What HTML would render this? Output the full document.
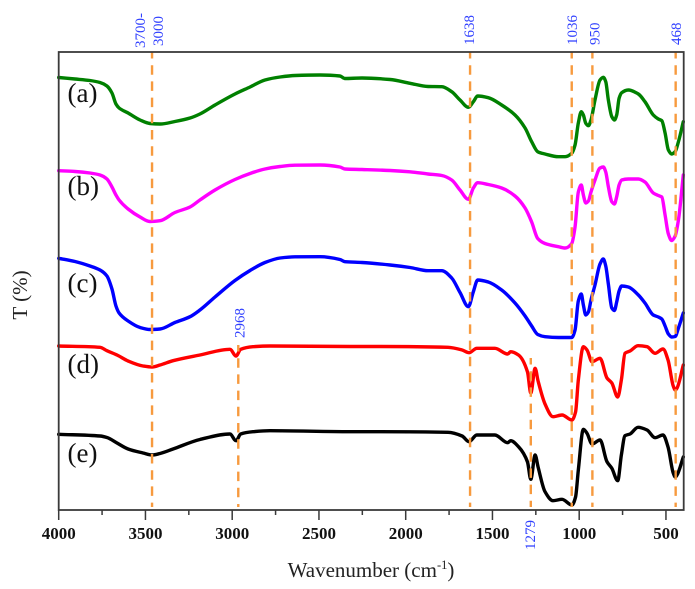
<!DOCTYPE html>
<html lang="en">
<head>
<meta charset="utf-8">
<title>FTIR spectra</title>
<style>
html,body{margin:0;padding:0;background:#fff;}
#chart{display:block;width:695px;height:589px;}
text{font-family:"Liberation Serif",serif;}
</style>
</head>
<body>
<svg id="chart" xmlns="http://www.w3.org/2000/svg" width="695" height="589" viewBox="0 0 695 589">
  <rect x="0" y="0" width="695" height="589" fill="#ffffff"/>
  <g id="curves"></g>
  <g id="guides"></g>
  <rect x="58.7" y="52" width="625" height="458" fill="none" stroke="#3a3a3a" stroke-width="1.8"/>
  <g id="ticks"></g>
  <g id="annotations"></g>
  <g id="series-labels"></g>
  <text x="371" y="577" text-anchor="middle" font-size="21" fill="#222">Wavenumber (cm<tspan font-size="12.5" dy="-8">-1</tspan><tspan dy="8">)</tspan></text>
  <text transform="translate(27,295) rotate(-90)" text-anchor="middle" font-size="21" fill="#222">T (%)</text>
</svg>
<script>
// Wavenumber sampling (cm-1) for the upper three spectra
const wavenumbersUpper = [4000,3906,3820,3762,3722,3693,3670,3652,3600,3531,3474,3416,3330,3243,3186,3099,2984,2897,2811,2724,2638,2494,2379,2350,2252,2090,1975,1871,1792,1735,1687,1639,1610,1585,1524,1447,1370,1312,1274,1239,1197,1120,1081,1043,1024,1005,988,976,962,947,932,909,880,861,847,832,812,797,784,770,755,717,659,621,573,544,524,505,486,467,447,428,400];
// Wavenumber sampling (cm-1) for the lower two spectra
const wavenumbersLower = [4000,3762,3722,3664,3600,3514,3462,3416,3341,3186,3013,2978,2951,2880,2782,2321,2160,1756,1675,1635,1590,1486,1412,1395,1350,1298,1279,1254,1237,1197,1151,1099,1042,1021,1005,976,955,926,880,840,812,778,757,736,707,661,609,563,517,488,458,446,436,400];
// Transmittance in arbitrary offset units
const seriesA = [432.5,431,429.5,427.5,424,417,406,402,397,390,386.5,386,388.5,392,396,405,416,423,430,433,434.5,435,434,431.5,432,430.5,426.7,423.5,423.3,418.3,410,402.7,408.3,414,412.3,405,395,382,368.3,358.3,356,353.3,353.3,356.7,365,387,398.3,395,386.7,384.3,390,410,430,432.7,428.3,410,393.3,390,395,411.7,417.3,420,416,408.3,395,391,389.3,377,360,356,358.3,368.3,388.3];
const seriesB = [339.3,338.5,337,335,331,323,315,310,301,293,288.5,289.3,297.5,303,310,320,330.5,336.5,341,343.5,344.8,345,343,341,340.5,339.5,338.2,336,334.5,330,320,310.7,322,327.3,325.5,322,314,302,288,271.5,266.5,263.3,262,266.5,283,318,325,315,307,309,318,330,342,343,338,323.3,308.3,306,313.3,325,330,331,331,328,317,314.5,313,295,276,269.5,274,290,335];
const seriesC = [251.7,248.5,244,240,234,221,204,197,189,182.5,180.5,181,187.5,193.3,200,213,229.5,239.5,247.5,252,253.2,253.3,250.5,248.3,247.5,245,242.5,239.3,239.3,232,217.5,203.3,218.3,230,228,220,207,194,184,175.5,173.3,172.5,172.5,172.5,180,209,216,205,195,198,210,225,246,251,244,226,202,199.5,208,219,224,223,215,207,195,193,191,184,176,173,173.5,182,197];
const seriesD = [164,162.7,159.3,155,149,144,143,145,149.3,155,160.7,154,160.7,163.3,164,163.5,163.5,162.7,160,157.3,161.7,161.7,156,158.3,155,138,117,141.7,129,106,93.3,95,90,98,130,163.3,160,148.3,151.7,132,127,113,130,156.7,159,164.3,163.3,156.7,161,150,124,120,122,145];
const seriesE = [75.7,74,72.5,67,61,57,55,56.5,61,70.5,76,69.3,76,78.3,79.3,78.3,78.3,77.7,74,68.3,75,75,67.3,69.3,63.3,48,30.7,55,43,18.3,9.3,10.7,5,13,40,80.7,76.7,66,70,48.3,41.7,29.3,55,74.3,76,82.7,80,72.3,75,63,37,33,35,53];
// Tick labels
const majorTicks = [4000,3500,3000,2500,2000,1500,1000,500];
const minorTicks = [3750,3250,2750,2250,1750,1250,750];
// Guide lines: wavenumber, and the transmittance where each one starts
const guideWavenumbers = [3462,2965,1629,1279,1043,924,444];
const guideTops = [458,165,458,152,458,458,458];
// Printed peak annotations
const annotationLines = ["3700-","3000","2968","1638","1279","1036","950","468"];
const annotationWavenumbers = [3530,3428,2958,1634,1285,1041,912,442];
const annotationTops = [462,464,172,465,-40,465,465,465];
// Series text labels
const seriesNames = ["(a)","(b)","(c)","(d)","(e)"];
const seriesNameLevels = [408,315,218,137,48];

const NS = "http://www.w3.org/2000/svg";
const xScale = wn => 58.7 + (4000 - wn) * 0.1735;
const yScale = t => 510 - t;

function smoothPath(xs, ys) {
  const n = xs.length, d = [], w = [], m = [];
  for (let i = 0; i < n - 1; i++) {
    w.push(xs[i + 1] - xs[i]);
    d.push((ys[i + 1] - ys[i]) / w[i]);
  }
  m[0] = d[0];
  m[n - 1] = d[n - 2];
  for (let i = 1; i < n - 1; i++) {
    const a = 2 * w[i] + w[i - 1], b = w[i] + 2 * w[i - 1];
    m[i] = d[i - 1] * d[i] <= 0 ? 0 : (a + b) / (a / d[i - 1] + b / d[i]);
  }
  let s = "M" + xs[0].toFixed(2) + " " + ys[0].toFixed(2);
  for (let i = 0; i < n - 1; i++) {
    const h = w[i] / 3;
    s += "C" + (xs[i] + h).toFixed(2) + " " + (ys[i] + m[i] * h).toFixed(2) + " " +
      (xs[i + 1] - h).toFixed(2) + " " + (ys[i + 1] - m[i + 1] * h).toFixed(2) + " " +
      xs[i + 1].toFixed(2) + " " + ys[i + 1].toFixed(2);
  }
  return s;
}

function drawCurve(wn, t, color, name) {
  const p = document.createElementNS(NS, "path");
  p.setAttribute("d", smoothPath(wn.map(xScale), t.map(yScale)));
  p.setAttribute("fill", "none");
  p.setAttribute("stroke", color);
  p.setAttribute("stroke-width", "3.4");
  p.setAttribute("stroke-linejoin", "round");
  p.setAttribute("stroke-linecap", "round");
  
  
  document.getElementById("curves").appendChild(p);
}
drawCurve(wavenumbersUpper, seriesA, "#008000", "curve-a");
drawCurve(wavenumbersUpper, seriesB, "#ff00ff", "curve-b");
drawCurve(wavenumbersUpper, seriesC, "#0000ff", "curve-c");
drawCurve(wavenumbersLower, seriesD, "#ff0000", "curve-d");
drawCurve(wavenumbersLower, seriesE, "#000000", "curve-e");

const guideLayer = document.getElementById("guides");
guideWavenumbers.forEach((wn, i) => {
  const l = document.createElementNS(NS, "line");
  l.setAttribute("x1", xScale(wn));
  l.setAttribute("x2", xScale(wn));
  l.setAttribute("y1", yScale(guideTops[i]));
  l.setAttribute("y2", 507);
  l.setAttribute("stroke", "#f79a3e");
  l.setAttribute("stroke-width", "2.4");
  l.setAttribute("stroke-dasharray", "9.5 6.7");
  l.setAttribute("stroke-dashoffset", "3");
  
  
  guideLayer.appendChild(l);
});

const tickLayer = document.getElementById("ticks");
majorTicks.forEach(wn => {
  const l = document.createElementNS(NS, "line");
  l.setAttribute("x1", xScale(wn));
  l.setAttribute("x2", xScale(wn));
  l.setAttribute("y1", 510);
  l.setAttribute("y2", 520);
  l.setAttribute("stroke", "#3a3a3a");
  l.setAttribute("stroke-width", "1.5");
  
  
  tickLayer.appendChild(l);
  const t = document.createElementNS(NS, "text");
  t.setAttribute("x", xScale(wn));
  t.setAttribute("y", 539);
  t.setAttribute("text-anchor", "middle");
  t.setAttribute("font-size", "17");
  t.setAttribute("font-weight", "bold");
  t.setAttribute("fill", "#111");
  
  
  t.textContent = wn;
  tickLayer.appendChild(t);
});
minorTicks.forEach(wn => {
  const l = document.createElementNS(NS, "line");
  l.setAttribute("x1", xScale(wn));
  l.setAttribute("x2", xScale(wn));
  l.setAttribute("y1", 510);
  l.setAttribute("y2", 515);
  l.setAttribute("stroke", "#3a3a3a");
  l.setAttribute("stroke-width", "1.5");
  
  
  tickLayer.appendChild(l);
});

const annotationLayer = document.getElementById("annotations");
annotationLines.forEach((txt, i) => {
  const t = document.createElementNS(NS, "text");
  const px = xScale(annotationWavenumbers[i]) + 5;
  const py = yScale(annotationTops[i]);
  t.setAttribute("transform", "translate(" + px + "," + py + ") rotate(-90)");
  t.setAttribute("font-size", "15");
  t.setAttribute("fill", "#2f3fff");
  
  
  t.textContent = txt;
  annotationLayer.appendChild(t);
});

const labelLayer = document.getElementById("series-labels");
seriesNames.forEach((txt, i) => {
  const t = document.createElementNS(NS, "text");
  t.setAttribute("x", 67.5);
  t.setAttribute("y", yScale(seriesNameLevels[i]));
  t.setAttribute("font-size", "27");
  t.setAttribute("fill", "#111");
  
  
  t.textContent = txt;
  labelLayer.appendChild(t);
});
</script>
</body>
</html>
